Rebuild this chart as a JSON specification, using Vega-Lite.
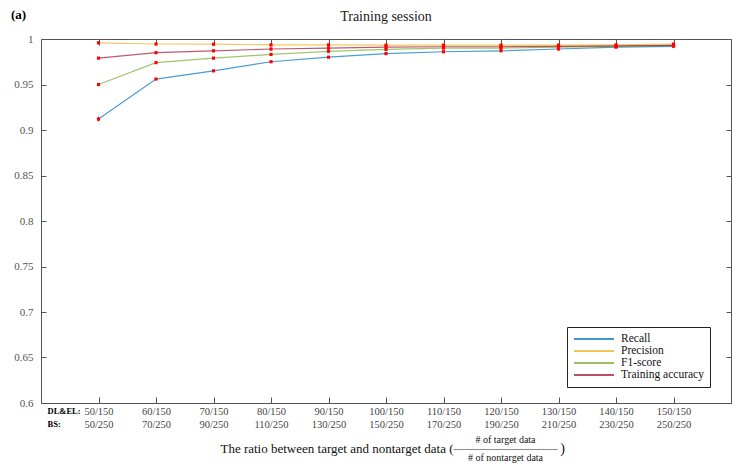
{
  "$schema": "https://vega.github.io/schema/vega-lite/v6.json",
  "width": 690,
  "height": 364,
  "autosize": {"type": "none"},
  "padding": {"left": 41, "top": 39, "right": 19, "bottom": 69},
  "background": "white",
  "config": {"view": {"stroke": "#555555", "strokeWidth": 1}, "font": "Liberation Serif"},
  "title": {"text": "Training session", "frame": "group", "font": "Liberation Serif", "fontSize": 14, "fontWeight": "normal", "color": "#222222", "offset": -16, "anchor": "middle"},
  "data": {"values": [
    {"metric": "Recall", "n": 50, "v": 0.912, "lo": 0.9095, "hi": 0.9145},
    {"metric": "Recall", "n": 60, "v": 0.956, "lo": 0.955, "hi": 0.957},
    {"metric": "Recall", "n": 70, "v": 0.965, "lo": 0.964, "hi": 0.966},
    {"metric": "Recall", "n": 80, "v": 0.975, "lo": 0.974, "hi": 0.976},
    {"metric": "Recall", "n": 90, "v": 0.980, "lo": 0.979, "hi": 0.981},
    {"metric": "Recall", "n": 100, "v": 0.984, "lo": 0.983, "hi": 0.985},
    {"metric": "Recall", "n": 110, "v": 0.986, "lo": 0.985, "hi": 0.987},
    {"metric": "Recall", "n": 120, "v": 0.987, "lo": 0.986, "hi": 0.988},
    {"metric": "Recall", "n": 130, "v": 0.989, "lo": 0.9875, "hi": 0.9905},
    {"metric": "Recall", "n": 140, "v": 0.991, "lo": 0.990, "hi": 0.992},
    {"metric": "Recall", "n": 150, "v": 0.992, "lo": 0.991, "hi": 0.993},
    {"metric": "Precision", "n": 50, "v": 0.9958, "lo": 0.9943, "hi": 0.9973},
    {"metric": "Precision", "n": 60, "v": 0.9945, "lo": 0.9935, "hi": 0.9955},
    {"metric": "Precision", "n": 70, "v": 0.9943, "lo": 0.9933, "hi": 0.9953},
    {"metric": "Precision", "n": 80, "v": 0.9935, "lo": 0.992, "hi": 0.995},
    {"metric": "Precision", "n": 90, "v": 0.9935, "lo": 0.992, "hi": 0.995},
    {"metric": "Precision", "n": 100, "v": 0.9932, "lo": 0.9917, "hi": 0.9947},
    {"metric": "Precision", "n": 110, "v": 0.9932, "lo": 0.9917, "hi": 0.9947},
    {"metric": "Precision", "n": 120, "v": 0.9932, "lo": 0.9917, "hi": 0.9947},
    {"metric": "Precision", "n": 130, "v": 0.9933, "lo": 0.9918, "hi": 0.9948},
    {"metric": "Precision", "n": 140, "v": 0.9935, "lo": 0.9925, "hi": 0.9945},
    {"metric": "Precision", "n": 150, "v": 0.9945, "lo": 0.9935, "hi": 0.9955},
    {"metric": "F1-score", "n": 50, "v": 0.950, "lo": 0.949, "hi": 0.951},
    {"metric": "F1-score", "n": 60, "v": 0.974, "lo": 0.973, "hi": 0.975},
    {"metric": "F1-score", "n": 70, "v": 0.979, "lo": 0.978, "hi": 0.980},
    {"metric": "F1-score", "n": 80, "v": 0.983, "lo": 0.982, "hi": 0.984},
    {"metric": "F1-score", "n": 90, "v": 0.9865, "lo": 0.9855, "hi": 0.9875},
    {"metric": "F1-score", "n": 100, "v": 0.9885, "lo": 0.9875, "hi": 0.9895},
    {"metric": "F1-score", "n": 110, "v": 0.990, "lo": 0.989, "hi": 0.991},
    {"metric": "F1-score", "n": 120, "v": 0.990, "lo": 0.989, "hi": 0.991},
    {"metric": "F1-score", "n": 130, "v": 0.991, "lo": 0.990, "hi": 0.992},
    {"metric": "F1-score", "n": 140, "v": 0.992, "lo": 0.991, "hi": 0.993},
    {"metric": "F1-score", "n": 150, "v": 0.993, "lo": 0.992, "hi": 0.994},
    {"metric": "Training accuracy", "n": 50, "v": 0.979, "lo": 0.978, "hi": 0.980},
    {"metric": "Training accuracy", "n": 60, "v": 0.985, "lo": 0.984, "hi": 0.986},
    {"metric": "Training accuracy", "n": 70, "v": 0.987, "lo": 0.986, "hi": 0.988},
    {"metric": "Training accuracy", "n": 80, "v": 0.989, "lo": 0.987, "hi": 0.991},
    {"metric": "Training accuracy", "n": 90, "v": 0.990, "lo": 0.988, "hi": 0.992},
    {"metric": "Training accuracy", "n": 100, "v": 0.991, "lo": 0.989, "hi": 0.993},
    {"metric": "Training accuracy", "n": 110, "v": 0.9915, "lo": 0.9895, "hi": 0.9935},
    {"metric": "Training accuracy", "n": 120, "v": 0.9915, "lo": 0.9895, "hi": 0.9935},
    {"metric": "Training accuracy", "n": 130, "v": 0.992, "lo": 0.990, "hi": 0.994},
    {"metric": "Training accuracy", "n": 140, "v": 0.9925, "lo": 0.9915, "hi": 0.9935},
    {"metric": "Training accuracy", "n": 150, "v": 0.993, "lo": 0.991, "hi": 0.995}
  ]},
  "resolve": {"axis": {"x": "independent", "y": "independent"}},
  "layer": [
    {
      "mark": {"type": "line", "strokeWidth": 1.2, "opacity": 0.7},
      "encoding": {
        "x": {
          "field": "n", "type": "quantitative",
          "scale": {"domain": [40, 160], "nice": false, "zero": false},
          "axis": {
            "orient": "bottom",
            "values": [40, 50, 60, 70, 80, 90, 100, 110, 120, 130, 140, 150],
            "domain": false, "grid": false,
            "tickSize": -6, "tickColor": "#555555",
            "tickOpacity": {"condition": {"test": "datum.value == 40", "value": 0}, "value": 1},
            "labelExpr": "datum.value == 40 ? ['DL&EL:', 'BS:'] : [datum.value + '/150', (2 * datum.value - 50) + '/250']",
            "labelFont": "Liberation Serif",
            "labelFontSize": {"condition": {"test": "datum.value == 40", "value": 8.5}, "value": 10.5},
            "labelColor": {"condition": {"test": "datum.value == 40", "value": "#000000"}, "value": "#444444"},
            "labelFontWeight": {"condition": {"test": "datum.value == 40", "value": "bold"}, "value": "normal"},
            "labelAlign": {"condition": {"test": "datum.value == 40", "value": "left"}, "value": "center"},
            "labelOffset": {"condition": {"test": "datum.value == 40", "value": 6}, "value": 0},
            "labelPadding": 9, "labelLineHeight": 13,
            "labelBound": false, "labelOverlap": false, "labelFlush": false,
            "title": "The ratio between target and nontarget data (",
            "titleFont": "Liberation Serif", "titleFontSize": 13, "titleFontWeight": "normal", "titleColor": "#111111",
            "titleX": 412, "titleY": 45, "titleAlign": "right", "titleBaseline": "middle"
          }
        },
        "y": {
          "field": "v", "type": "quantitative",
          "scale": {"domain": [0.6, 1], "nice": false, "zero": false},
          "axis": {
            "orient": "left",
            "values": [0.6, 0.65, 0.7, 0.75, 0.8, 0.85, 0.9, 0.95, 1],
            "format": ".2~f",
            "domain": false, "grid": false,
            "tickSize": -5, "tickColor": "#555555",
            "labelFont": "Liberation Serif", "labelFontSize": 11, "labelColor": "#555555", "labelPadding": 13,
            "title": "(a)", "titleAngle": 0, "titleX": -23, "titleY": -25,
            "titleAlign": "center", "titleBaseline": "middle",
            "titleFont": "Liberation Serif", "titleFontSize": 13, "titleFontWeight": "bold", "titleColor": "#000000"
          }
        },
        "color": {
          "field": "metric", "type": "nominal",
          "scale": {"domain": ["Recall", "Precision", "F1-score", "Training accuracy"], "range": ["#0072BD", "#EDB120", "#77AC30", "#A2142F"]},
          "legend": {
            "title": null, "orient": "none", "legendX": 526, "legendY": 288,
            "direction": "vertical",
            "fillColor": "white", "strokeColor": "#222222", "padding": 6,
            "symbolType": "M-1,0H7", "symbolSize": 100, "symbolStrokeWidth": 1.6, "symbolOpacity": 1,
            "labelFont": "Liberation Serif", "labelFontSize": 11.5, "labelColor": "#111111",
            "labelOffset": 36, "rowPadding": 0, "labelLimit": 200
          }
        }
      }
    },
    {
      "mark": {"type": "rule", "color": "#ff0000", "strokeWidth": 1},
      "encoding": {
        "x": {
          "field": "n", "type": "quantitative",
          "axis": {
            "orient": "bottom", "labels": false, "ticks": false, "domain": false, "grid": false,
            "title": "—————————————",
            "titleFont": "Liberation Serif", "titleFontSize": 8, "titleFontWeight": "normal", "titleColor": "#333333",
            "titleX": 464, "titleY": 45, "titleAlign": "center", "titleBaseline": "middle"
          }
        },
        "y": {
          "field": "lo", "type": "quantitative",
          "axis": {
            "orient": "left", "labels": false, "ticks": false, "domain": false, "grid": false,
            "title": ")", "titleAngle": 0, "titleX": 521, "titleY": 409,
            "titleAlign": "center", "titleBaseline": "middle",
            "titleFont": "Liberation Serif", "titleFontSize": 14, "titleFontWeight": "normal", "titleColor": "#111111"
          }
        },
        "y2": {"field": "hi"}
      }
    },
    {
      "mark": {"type": "point", "shape": "square", "filled": true, "color": "#ff0000", "size": 10, "opacity": 1},
      "encoding": {
        "x": {
          "field": "n", "type": "quantitative",
          "axis": {
            "orient": "top", "values": [50, 60, 70, 80, 90, 100, 110, 120, 130, 140, 150],
            "labels": false, "domain": false, "grid": false,
            "tickSize": -6, "tickColor": "#555555",
            "title": "# of target data",
            "titleFont": "Liberation Serif", "titleFontSize": 10, "titleFontWeight": "normal", "titleColor": "#111111",
            "titleX": 464, "titleY": 400, "titleAlign": "center", "titleBaseline": "middle"
          }
        },
        "y": {
          "field": "v", "type": "quantitative",
          "axis": {
            "orient": "right", "values": [0.6, 0.65, 0.7, 0.75, 0.8, 0.85, 0.9, 0.95, 1],
            "labels": false, "domain": false, "grid": false,
            "tickSize": -5, "tickColor": "#555555",
            "title": "# of nontarget data", "titleAngle": 0, "titleX": -226, "titleY": 418,
            "titleAlign": "center", "titleBaseline": "middle",
            "titleFont": "Liberation Serif", "titleFontSize": 10, "titleFontWeight": "normal", "titleColor": "#111111"
          }
        }
      }
    }
  ]
}
